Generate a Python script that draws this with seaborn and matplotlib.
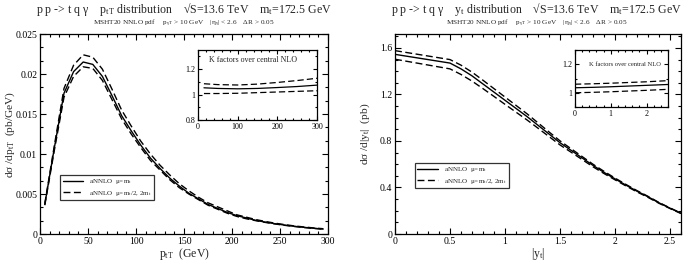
import numpy as np
import pandas as pd
import matplotlib
matplotlib.use("Agg")
import matplotlib.pyplot as plt
import seaborn as sns
from matplotlib.ticker import MultipleLocator, FuncFormatter
from matplotlib.lines import Line2D

# ---------------- data ----------------
pt = [5, 15, 25, 35, 45, 55, 65, 75, 85, 95, 105, 115, 125, 135, 145, 155, 165, 175,
      185, 195, 205, 215, 225, 235, 245, 255, 265, 275, 285, 295]
pt_central = [0.0037, 0.0108, 0.0176, 0.0203, 0.0215, 0.0212, 0.0197, 0.0173, 0.0148, 0.0129,
              0.0111, 0.0095, 0.0082, 0.0070, 0.0060, 0.0051, 0.0044, 0.0037, 0.0032, 0.0027,
              0.0023, 0.0020, 0.0017, 0.00148, 0.00128, 0.00111, 0.00096, 0.00083, 0.00072, 0.00062]
pt_upper = [0.0038, 0.0111, 0.0182, 0.0211, 0.0224, 0.0221, 0.0206, 0.0181, 0.0155, 0.0135,
            0.0116, 0.0100, 0.0086, 0.0074, 0.0063, 0.0054, 0.0046, 0.0039, 0.0034, 0.0029,
            0.0024, 0.0021, 0.0018, 0.00156, 0.00135, 0.00117, 0.00101, 0.00088, 0.00076, 0.00066]
pt_lower = [0.0036, 0.0105, 0.0171, 0.0197, 0.0209, 0.0207, 0.0192, 0.0168, 0.0144, 0.0125,
            0.0108, 0.0092, 0.0080, 0.0068, 0.0058, 0.0050, 0.0043, 0.0036, 0.0031, 0.0026,
            0.0022, 0.0019, 0.00166, 0.00144, 0.00125, 0.00108, 0.00094, 0.00081, 0.0007, 0.0006]

kpt_x = [15, 50, 100, 150, 200, 250, 300]
kpt_upper = [1.085, 1.078, 1.075, 1.082, 1.095, 1.110, 1.128]
kpt_central = [1.053, 1.048, 1.045, 1.048, 1.055, 1.063, 1.074]
kpt_lower = [1.008, 1.008, 1.010, 1.015, 1.020, 1.025, 1.030]

yt = [0.0, 0.5, 0.6, 0.7, 0.8, 0.9, 1.0, 1.1, 1.2, 1.3, 1.4, 1.5, 1.6, 1.7, 1.8, 1.9,
      2.0, 2.1, 2.2, 2.3, 2.4, 2.5, 2.6]
yt_central = [1.545, 1.47, 1.42, 1.36, 1.29, 1.22, 1.15, 1.08, 1.01, 0.935, 0.86, 0.785,
              0.72, 0.655, 0.59, 0.53, 0.474, 0.42, 0.368, 0.32, 0.268, 0.222, 0.178]
yt_upper = [1.577, 1.50, 1.452, 1.392, 1.322, 1.25, 1.178, 1.106, 1.034, 0.956, 0.878, 0.801,
            0.734, 0.667, 0.60, 0.539, 0.481, 0.426, 0.373, 0.324, 0.271, 0.224, 0.18]
yt_lower = [1.503, 1.42, 1.372, 1.315, 1.25, 1.183, 1.115, 1.048, 0.981, 0.91, 0.838, 0.766,
            0.704, 0.641, 0.578, 0.52, 0.466, 0.413, 0.362, 0.315, 0.264, 0.219, 0.176]

kyt_x = [0.0, 0.5, 1.0, 1.5, 2.0, 2.6]
kyt_upper = [1.060, 1.063, 1.067, 1.072, 1.077, 1.085]
kyt_central = [1.035, 1.038, 1.042, 1.047, 1.052, 1.058]
kyt_lower = [1.000, 1.003, 1.007, 1.012, 1.017, 1.024]

legend_labels = [r"aNNLO  $\mathregular{\mu\!=\!m_t}$", r"aNNLO  $\mathregular{\mu\!=\!m_t/2,\,2m_t}$"]

# ---------------- style ----------------
sns.set_theme(style="ticks")
plt.rcParams["font.family"] = ["Liberation Serif", "DejaVu Serif"]
plt.rcParams["mathtext.fontset"] = "custom"
plt.rcParams["mathtext.rm"] = "Liberation Serif"
plt.rcParams["mathtext.it"] = "Liberation Serif:italic"
plt.rcParams["mathtext.default"] = "regular"
plt.rcParams["lines.dashed_pattern"] = [5.0, 2.5]
plt.rcParams["axes.linewidth"] = 0.9
plt.rcParams["axes.edgecolor"] = "black"

W, H = 685, 261
fig = plt.figure(figsize=(W / 100, H / 100), dpi=100)
fig.patch.set_facecolor("white")


def px_axes(x0, x1, y0, y1):
    return fig.add_axes([x0 / W, 1 - y1 / H, (x1 - x0) / W, (y1 - y0) / H])


def style_ticks(ax, xmaj, xmin, ymaj, ymin, size, lab):
    ax.xaxis.set_major_locator(MultipleLocator(xmaj))
    ax.xaxis.set_minor_locator(MultipleLocator(xmin))
    ax.yaxis.set_major_locator(MultipleLocator(ymaj))
    ax.yaxis.set_minor_locator(MultipleLocator(ymin))
    ax.tick_params(which="both", direction="in", top=True, right=True, colors="black",
                   labelsize=lab, width=0.8, pad=2)
    ax.tick_params(which="major", length=size)
    ax.tick_params(which="minor", length=size * 0.55)
    fmt = FuncFormatter(lambda v, p: "{:g}".format(round(v, 6)))
    ax.xaxis.set_major_formatter(fmt)
    ax.yaxis.set_major_formatter(fmt)
    ax.set_facecolor("white")
    for s in ax.spines.values():
        s.set_color("black")


def draw_three(ax, x, c, u, l, lw=1.0):
    df = pd.DataFrame({"x": x, "c": c, "u": u, "l": l})
    sns.lineplot(data=df, x="x", y="u", ax=ax, color="black", lw=lw, linestyle="--")
    sns.lineplot(data=df, x="x", y="c", ax=ax, color="black", lw=lw, linestyle="-")
    sns.lineplot(data=df, x="x", y="l", ax=ax, color="black", lw=lw, linestyle="--")
    ax.set_xlabel("")
    ax.set_ylabel("")


def add_legend(ax, loc_bbox):
    handles = [Line2D([], [], color="black", lw=1.0, ls="-"),
               Line2D([], [], color="black", lw=1.0, ls="--")]
    leg = ax.legend(handles, legend_labels, loc="lower left", bbox_to_anchor=loc_bbox,
                    fontsize=5.0, frameon=True, fancybox=False, handlelength=3.0,
                    handletextpad=0.8, borderpad=0.35, labelspacing=0.3, borderaxespad=0)
    leg.get_frame().set_edgecolor("black")
    leg.get_frame().set_linewidth(0.9)


# ---------------- left panel ----------------
ax1 = px_axes(40, 328, 34, 234)
draw_three(ax1, pt, pt_central, pt_upper, pt_lower)
ax1.set_xlim(0, 300)
ax1.set_ylim(0, 0.025)
style_ticks(ax1, 50, 10, 0.005, 0.005 / 3, 4, 7)
ax1.set_xlabel(r"$\mathregular{p_{tT}}$  (GeV)", fontsize=8.5, labelpad=0)
ax1.set_ylabel(r"$\mathregular{d\sigma\ /dp_{tT}}$  (pb/GeV)", fontsize=8.2)
ax1.yaxis.set_label_coords(-23 / 288, 0.5)
add_legend(ax1, (0.07, 0.17))

in1 = px_axes(198, 317, 50, 120)
draw_three(in1, kpt_x, kpt_central, kpt_upper, kpt_lower, lw=0.9)
in1.set_xlim(0, 300)
in1.set_ylim(0.8, 1.35)
style_ticks(in1, 100, 20, 0.2, 0.1, 3, 5.8)
in1.text(140, 1.27, "K factors over central NLO", fontsize=5.8, ha="center", va="center")

# ---------------- right panel ----------------
ax2 = px_axes(395, 681, 34, 234)
draw_three(ax2, yt, yt_central, yt_upper, yt_lower)
ax2.set_xlim(0, 2.6)
ax2.set_ylim(0, 1.72)
style_ticks(ax2, 0.5, 0.1, 0.4, 0.1, 4, 7)
ax2.set_xlabel(r"$\mathregular{|y_t|}$", fontsize=8.5, labelpad=0)
ax2.set_ylabel(r"$\mathregular{d\sigma\ /d|y_t|}$  (pb)", fontsize=8.2)
ax2.yaxis.set_label_coords(-23 / 286, 0.5)
add_legend(ax2, (0.07, 0.23))

in2 = px_axes(575, 668, 50, 107)
draw_three(in2, kyt_x, kyt_central, kyt_upper, kyt_lower, lw=0.9)
in2.set_xlim(0, 2.6)
in2.set_ylim(0.9, 1.3)
style_ticks(in2, 1, 0.2, 0.2, 0.1, 3, 5.8)
in2.text(1.4, 1.2, "K factors over central NLO", fontsize=4.7, ha="center", va="center")

# ---------------- titles ----------------
def ftext(x, y, s, size):
    fig.text(x / W, 1 - y / H, s, fontsize=size, ha="center", va="center")

ftext(184, 9, r"p p -> t q γ    $\mathregular{p_{tT}}$ distribution    √S=13.6 TeV    $\mathregular{m_t}$=172.5 GeV", 8.6)
ftext(184, 23, r"MSHT20 NNLO pdf     $\mathregular{p_{\gamma T}}$ > 10 GeV    $\mathregular{|\eta_\gamma|}$ < 2.6    ΔR > 0.05", 5.2)
ftext(536, 9, r"p p -> t q γ    $\mathregular{y_t}$ distribution    √S=13.6 TeV    $\mathregular{m_t}$=172.5 GeV", 8.6)
ftext(537, 23, r"MSHT20 NNLO pdf     $\mathregular{p_{\gamma T}}$ > 10 GeV    $\mathregular{|\eta_\gamma|}$ < 2.6    ΔR > 0.05", 5.2)

fig.savefig("out.png", dpi=100, facecolor="white")
